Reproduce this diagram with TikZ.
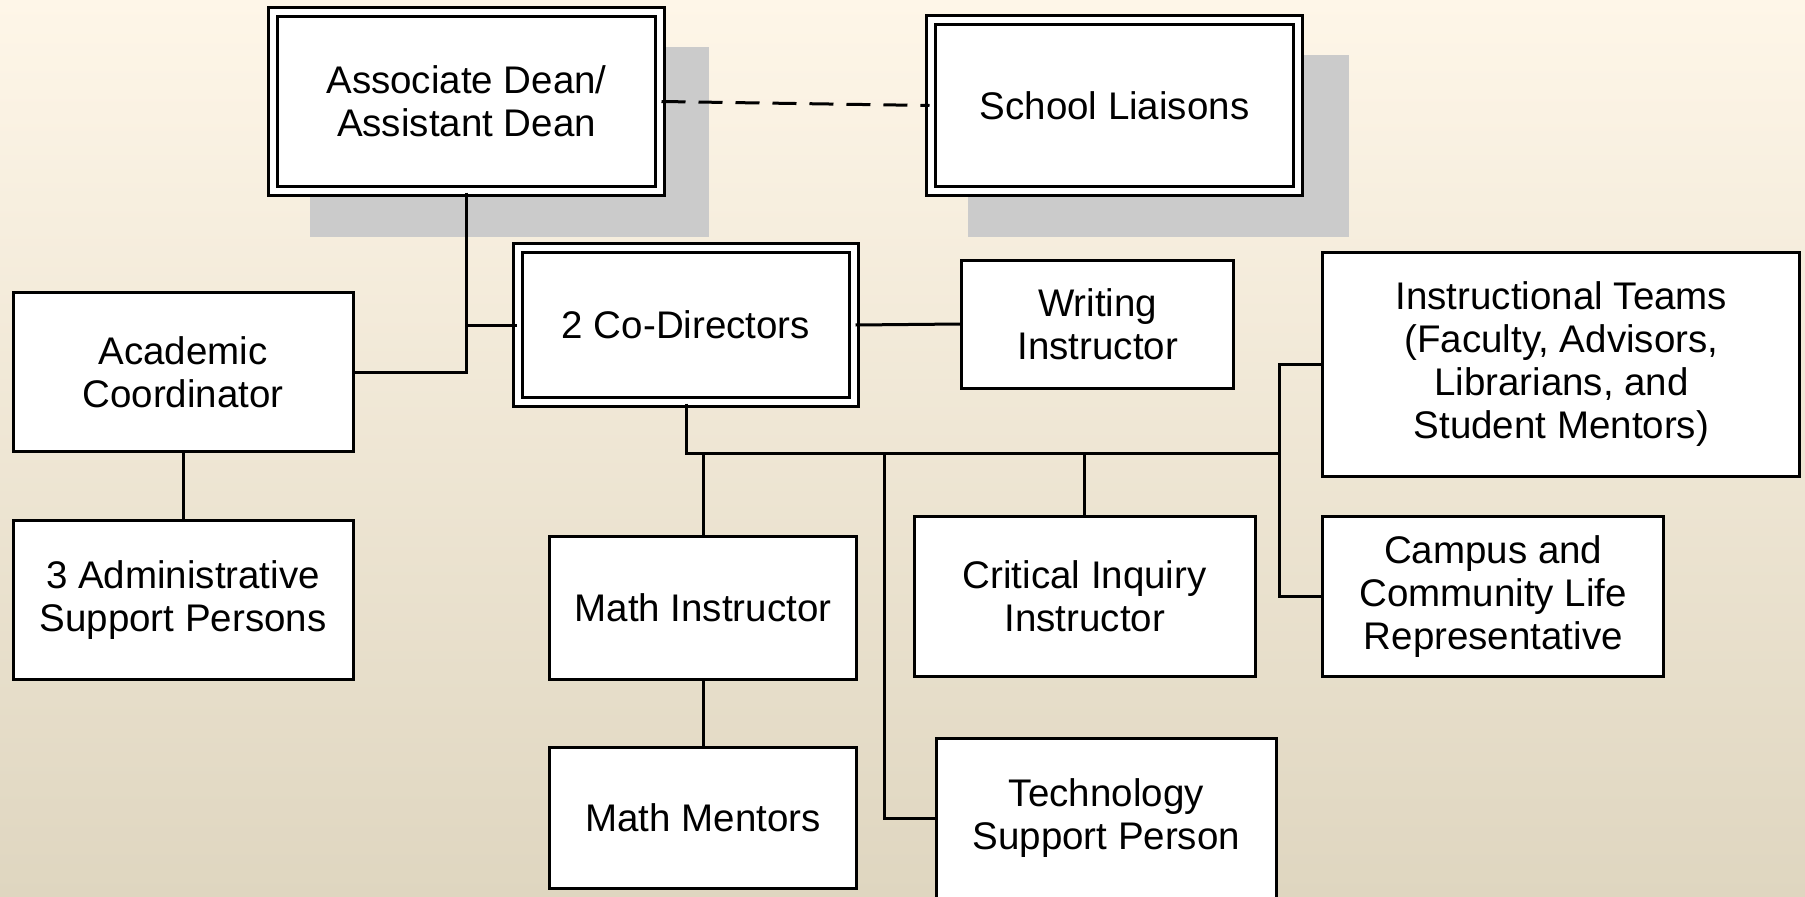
\documentclass[tikz,border=0pt]{standalone}
\usepackage{fontspec}
\setmainfont{Liberation Sans}
\usepackage{tikz}
\usetikzlibrary{calc}
\definecolor{bgtop}{HTML}{FEF6E8}
\definecolor{bgbot}{HTML}{DFD6C0}
\definecolor{shd}{HTML}{CBCBCB}
\tikzset{orgbox/.style={rectangle, draw=black, fill=white, line width=3pt, inner sep=0pt, align=center, font=\fontsize{38.5}{43}\selectfont}}
\tikzset{orgdbl/.style={orgbox, double=white, double distance=6pt}}
\tikzset{link/.style={line width=3pt}}

\begin{document}
\begin{tikzpicture}[x=1pt, y=-1pt]
    \useasboundingbox (0, 0) rectangle (1805, 897);
    \clip (0, 0) rectangle (1805, 897);
    \shade[top color=bgtop, bottom color=bgbot] (0, 0) rectangle (1805, 897);

    % shadows of the two top boxes
    \fill[shd] (310, 47) rectangle (709, 237);
    \fill[shd] (967.5, 55) rectangle (1348.5, 237);

    \node[orgdbl, minimum width=387pt, minimum height=179pt] (ad) at (466.5, 101.5) {Associate Dean/\\Assistant Dean};
    \node[orgdbl, minimum width=367pt, minimum height=171pt] (sl) at (1114.5, 105.5) {School Liaisons};
    \node[orgdbl, minimum width=336pt, minimum height=154pt] (cd) at (686, 325) {2 Co-Directors};

    \node[orgbox, minimum width=340pt, minimum height=159pt] (ac) at (183, 372) {Academic\\Coordinator};
    \node[orgbox, minimum width=340pt, minimum height=159pt] (asp) at (183, 600) {3 Administrative\\Support Persons};
    \node[orgbox, minimum width=272pt, minimum height=128pt] (wi) at (1097.7, 324) {Writing\\Instructor};
    \node[orgbox, minimum width=477pt, minimum height=224pt] (it) at (1561.4, 364.5) {Instructional Teams\\(Faculty, Advisors,\\Librarians, and\\Student Mentors)};
    \node[orgbox, minimum width=307pt, minimum height=143pt] (mi) at (703, 608) {Math Instructor};
    \node[orgbox, minimum width=307pt, minimum height=141pt] (mm) at (703, 818) {Math Mentors};
    \node[orgbox, minimum width=341pt, minimum height=160pt] (ci) at (1084.7, 596.5) {Critical Inquiry\\Instructor};
    \node[orgbox, minimum width=341pt, minimum height=160pt] (ccl) at (1493.3, 596.5) {Campus and\\Community Life\\Representative};
    \node[orgbox, minimum width=340.5pt, minimum height=161pt] (ts) at (1106.3, 818.5) {Technology\\Support Person};

    \coordinate (bus) at (686, 453);
    \coordinate (tsb) at (884, 453);
    \coordinate (trunk) at (1279.8, 453);

    \draw[link, dash pattern=on 24pt off 13pt] (ad.east) -- (sl.west);
    \draw[link] (ad.south) |- (ac.east);
    \draw[link] (cd.west) -- (ad.south |- cd.west);
    \draw[link] (ac.south) -- (asp.north);
    \draw[link] (cd.east) -- (wi.west);

    \draw[link] (cd.south) -- (bus) -- (trunk);
    \draw[link] (it.west) -| (trunk) |- (ccl.west);
    \draw[link] (mi.north) -- (mi.north |- bus);
    \draw[link] (ci.north) -- (ci.north |- bus);
    \draw[link] (tsb) |- (ts.west);
    \draw[link] (mi.south) -- (mm.north);
\end{tikzpicture}
\end{document}
